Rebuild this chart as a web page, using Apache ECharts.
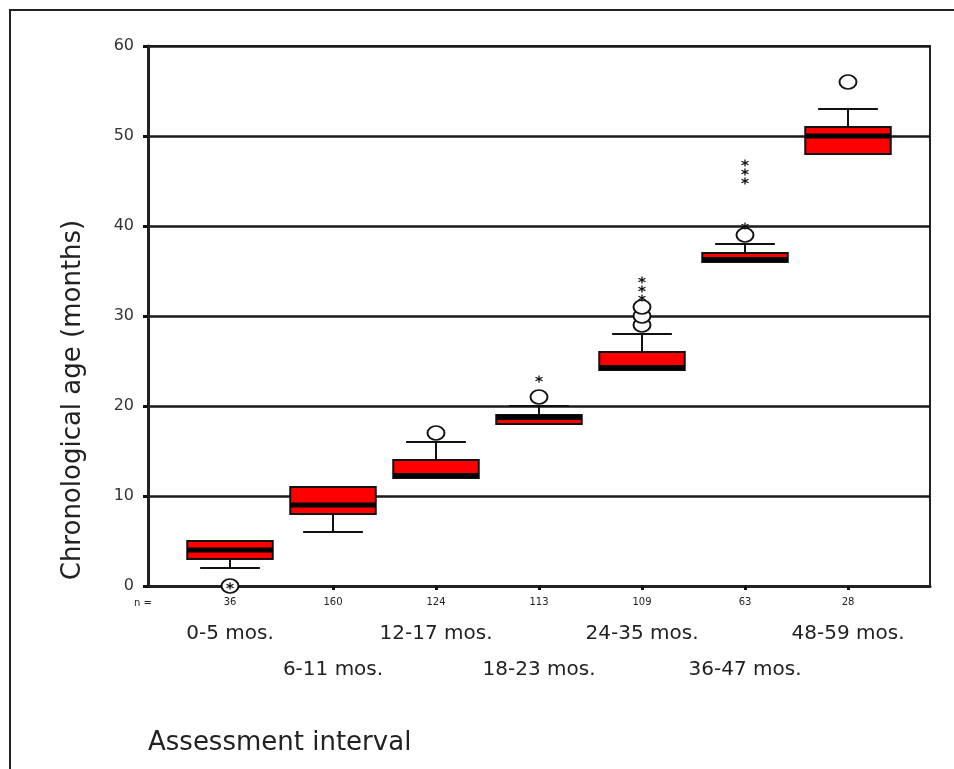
<!DOCTYPE html>
<html>
<head>
<meta charset="utf-8">
<script src="https://cdn.jsdelivr.net/npm/echarts@6/dist/echarts.min.js"></script>
<style>
html, body { margin: 0; padding: 0; background: #fff; }
#main { width: 954px; height: 769px; }
</style>
</head>
<body>
<div id="main"></div>
<script>
// assessment intervals and group sizes
var categories = ['0-5 mos.', '6-11 mos.', '12-17 mos.', '18-23 mos.', '24-35 mos.', '36-47 mos.', '48-59 mos.'];
var counts = [36, 160, 124, 113, 109, 63, 28];

// box statistics (months)
var boxMin    = [2, 6, 12, 18, 24, 36, 48];
var boxQ1     = [3, 8, 12, 18, 24, 36, 48];
var boxMedian = [4, 9, 12, 19, 24, 36, 50];
var boxQ3     = [5, 11, 14, 19, 26, 37, 51];
var boxMax    = [5, 11, 16, 20, 28, 38, 53];

// outliers [category index, months]
var circleOutliers = [[0, 0], [2, 17], [3, 21], [4, 29], [4, 30], [4, 31], [5, 39], [6, 56]];
var starOutliers = [[0, 0], [3, 23], [4, 32], [4, 33], [4, 34], [5, 40], [5, 45], [5, 46], [5, 47]];

var boxData = categories.map(function (c, i) {
  return [i, boxMin[i], boxQ1[i], boxMedian[i], boxQ3[i], boxMax[i]];
});

var font = 'DejaVu Sans';
var chart = echarts.init(document.getElementById('main'));

function renderBox(params, api) {
  var idx = api.value(0);
  var band = api.size([1, 0])[0];
  var boxW = band * 0.83, capW = band * 0.58;
  var pMin = api.coord([idx, api.value(1)]);
  var pQ1 = api.coord([idx, api.value(2)]);
  var pMed = api.coord([idx, api.value(3)]);
  var pQ3 = api.coord([idx, api.value(4)]);
  var pMax = api.coord([idx, api.value(5)]);
  var x = pQ1[0];
  var lineStyle = { stroke: '#111', lineWidth: 2 };
  var children = [];
  if (pMin[1] - pQ1[1] > 0.5) {
    children.push({ type: 'line', shape: { x1: x, y1: pQ1[1], x2: x, y2: pMin[1] }, style: lineStyle });
    children.push({ type: 'line', shape: { x1: x - capW / 2, y1: pMin[1], x2: x + capW / 2, y2: pMin[1] }, style: lineStyle });
  }
  if (pQ3[1] - pMax[1] > 0.5) {
    children.push({ type: 'line', shape: { x1: x, y1: pQ3[1], x2: x, y2: pMax[1] }, style: lineStyle });
    children.push({ type: 'line', shape: { x1: x - capW / 2, y1: pMax[1], x2: x + capW / 2, y2: pMax[1] }, style: lineStyle });
  }
  children.push({
    type: 'rect',
    shape: { x: x - boxW / 2, y: pQ3[1], width: boxW, height: pQ1[1] - pQ3[1] },
    style: { fill: '#ff0000', stroke: '#111', lineWidth: 2 }
  });
  var medH = 5;
  var my = Math.min(Math.max(pMed[1] - medH / 2, pQ3[1]), pQ1[1] - medH);
  children.push({
    type: 'rect',
    shape: { x: x - boxW / 2, y: my, width: boxW, height: medH },
    style: { fill: '#000' }
  });
  return { type: 'group', children: children };
}

var option = {
  backgroundColor: '#fff',
  animation: false,
  title: {
    text: 'Assessment interval',
    left: 143,
    top: 725,
    textStyle: { fontFamily: font, fontSize: 26, fontWeight: 'normal', color: '#222' }
  },
  graphic: [
    {
      type: 'polyline',
      shape: { points: [[10, 769], [10, 10], [954, 10]] },
      style: { stroke: '#222', lineWidth: 2, fill: null }
    },
    {
      type: 'text',
      left: 134,
      top: 598,
      style: { text: 'n =', font: '10px "DejaVu Sans"', fill: '#222' }
    }
  ],
  grid: [
    { left: 148, right: 24, top: 46, bottom: 183, show: true, borderColor: '#222', borderWidth: 2, backgroundColor: 'transparent' },
    { left: 178.5, right: 54.5, top: 46, bottom: 183 }
  ],
  xAxis: [
    {
      gridIndex: 0, type: 'value', min: 0, max: 1,
      axisLine: { show: true, lineStyle: { color: '#222', width: 3 } },
      axisTick: { show: false }, axisLabel: { show: false }, splitLine: { show: false }
    },
    {
      gridIndex: 1, type: 'category', data: categories, position: 'bottom',
      axisLine: { show: false },
      axisTick: { show: true, alignWithLabel: true, length: 4, lineStyle: { color: '#111', width: 3 } },
      axisLabel: {
        margin: 11, fontFamily: font, fontSize: 10, color: '#222',
        formatter: function (v, i) { return String(counts[i]); }
      },
      splitLine: { show: false }
    },
    {
      gridIndex: 1, type: 'category', data: categories, position: 'bottom',
      axisLine: { show: false }, axisTick: { show: false },
      axisLabel: {
        margin: 30, fontFamily: font, fontSize: 20, color: '#222', lineHeight: 36,
        interval: 0,
        formatter: function (v, i) { return i % 2 === 0 ? v : '\n' + v; }
      },
      splitLine: { show: false }
    }
  ],
  yAxis: [
    {
      gridIndex: 0, type: 'value', min: 0, max: 60, interval: 10,
      name: 'Chronological age (months)',
      nameLocation: 'middle',
      nameGap: 62,
      nameTextStyle: { fontFamily: font, fontSize: 26, color: '#222', padding: [0, 168, 0, 0] },
      axisLine: { show: true, lineStyle: { color: '#222', width: 3 } },
      axisTick: { show: true, length: 5, lineStyle: { color: '#111', width: 3 } },
      axisLabel: { margin: 14, fontFamily: font, fontSize: 16, color: '#333' },
      splitLine: { show: true, lineStyle: { color: '#1a1a1a', width: 2.5 } }
    },
    {
      gridIndex: 1, type: 'value', min: 0, max: 60, interval: 10,
      axisLine: { show: false }, axisTick: { show: false }, axisLabel: { show: false }, splitLine: { show: false }
    }
  ],
  series: [
    {
      type: 'custom',
      xAxisIndex: 1, yAxisIndex: 1,
      renderItem: renderBox,
      encode: { x: 0, y: [1, 2, 3, 4, 5] },
      data: boxData,
      z: 3
    },
    {
      type: 'scatter',
      xAxisIndex: 1, yAxisIndex: 1,
      symbol: 'circle',
      symbolSize: [17, 14],
      itemStyle: { color: '#fff', borderColor: '#111', borderWidth: 1.8, opacity: 1 },
      data: circleOutliers,
      z: 4
    },
    {
      type: 'scatter',
      xAxisIndex: 1, yAxisIndex: 1,
      symbol: 'path://M5,0L5,10M0.7,2.5L9.3,7.5M0.7,7.5L9.3,2.5',
      symbolSize: [7, 7],
      itemStyle: { color: 'none', borderColor: '#111', borderWidth: 1.3, opacity: 1 },
      data: starOutliers,
      z: 5
    }
  ]
};
chart.setOption(option);
</script>
</body>
</html>
